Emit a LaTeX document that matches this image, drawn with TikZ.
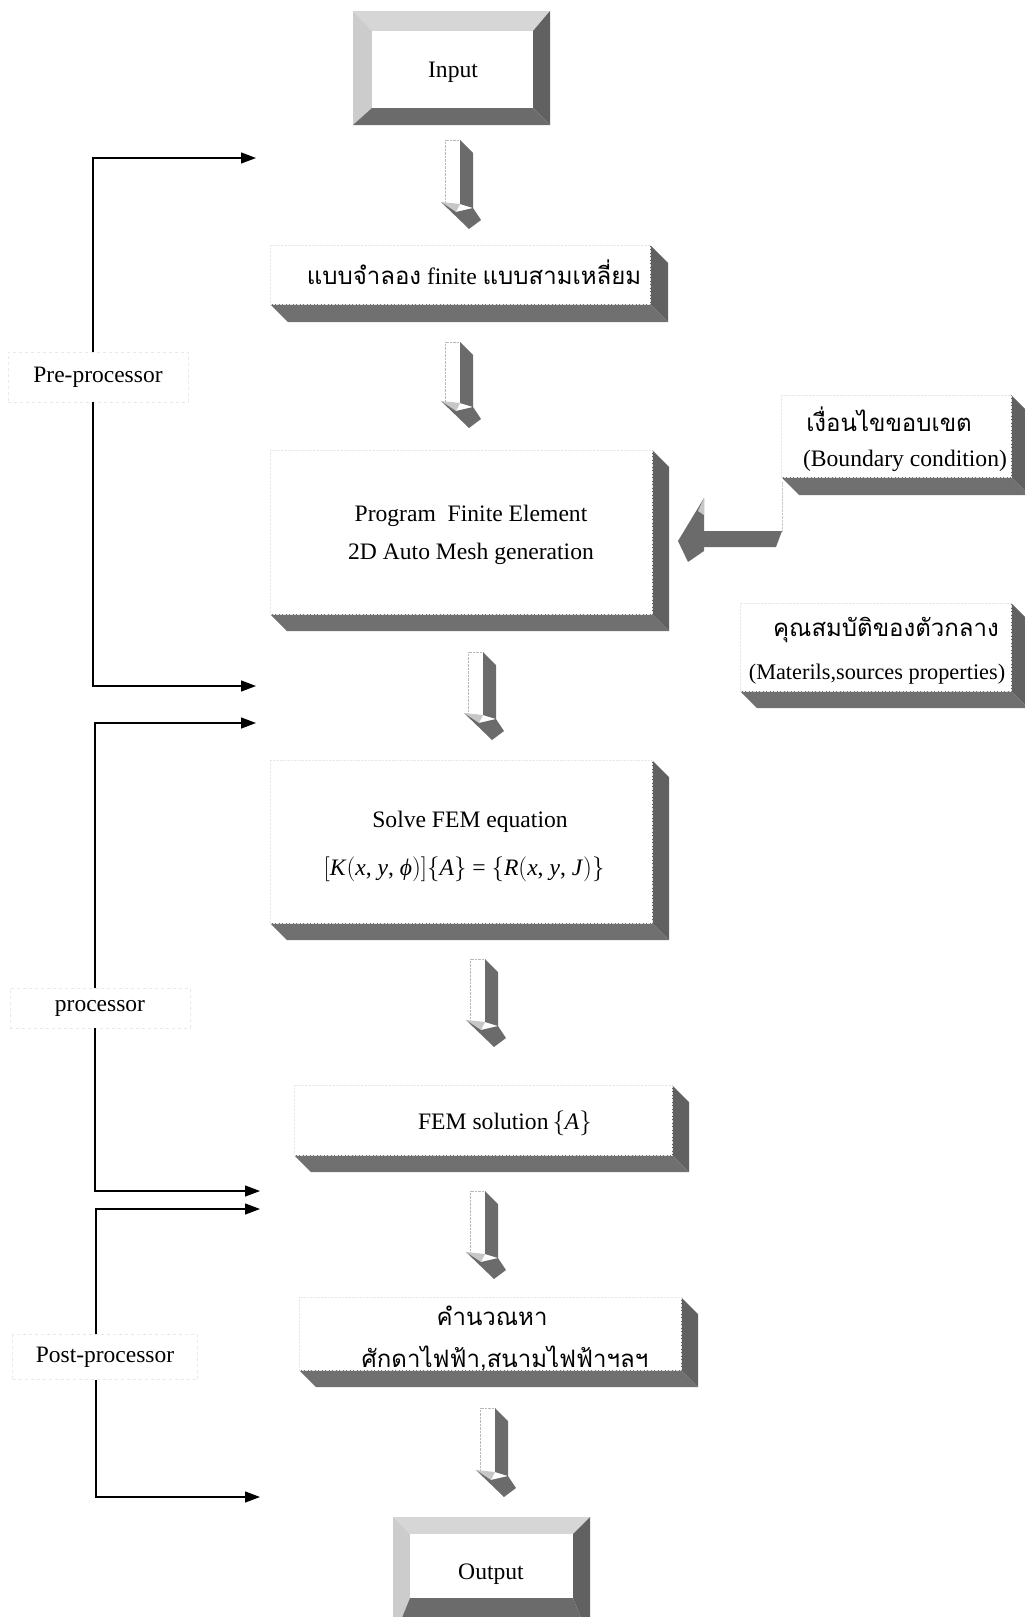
\documentclass[tikz,border=0pt]{standalone}
\usepackage{fontspec}
\setmainfont{Liberation Serif}
\newfontfamily\thaifont[Script=Thai]{Loma}
\usetikzlibrary{arrows.meta}
\tikzset{
  face/.style={fill=white, draw=gray!18, densely dotted, inner sep=0pt, outer sep=0pt, anchor=north west},
  bandR/.style={fill=black!62},
  bandB/.style={fill=black!56},
  bevT/.style={fill=black!16},
  bevL/.style={fill=black!20},
  bevR/.style={fill=black!62},
  bevB/.style={fill=black!58},
  arrside/.style={fill=black!58},
  arrlight/.style={fill=black!22},
  conn/.style={line width=1.3pt, -{Triangle[length=15pt,width=11pt]}},
  txt/.style={font=\fontsize{23.6}{30}\selectfont, align=center, inner sep=0pt},
  thtxt/.style={font=\thaifont\fontsize{24}{34}\selectfont, align=center, inner sep=0pt},
  lbl/.style={font=\fontsize{23.5}{28}\selectfont, draw=gray!18, dashed, inner sep=0pt, fill=white},
}
% 3D box: name, x1, y1, x2, y2, depth
\newcommand{\tdbox}[6]{%
  \fill[bandR] (#4,#3) -- (#4+#6,#3+#6) -- (#4+#6,#5+#6) -- (#4,#5) -- cycle;
  \fill[bandB] (#2,#5) -- (#4,#5) -- (#4+#6,#5+#6) -- (#2+#6,#5+#6) -- cycle;
  \node[face, minimum width={#4-#2}, minimum height={#5-#3}] (#1) at (#2,#3) {};
}
% bevelled frame: name, outer x1,y1,x2,y2, inner x1,y1,x2,y2
\newcommand{\bevbox}[9]{%
  \fill[bevT] (#2,#3) -- (#4,#3) -- (#8,#7) -- (#6,#7) -- cycle;
  \fill[bevL] (#2,#3) -- (#6,#7) -- (#6,#9) -- (#2,#5) -- cycle;
  \fill[bevR] (#4,#3) -- (#4,#5) -- (#8,#9) -- (#8,#7) -- cycle;
  \fill[bevB] (#2,#5) -- (#4,#5) -- (#8,#9) -- (#6,#9) -- cycle;
  \node[fill=white, inner sep=0pt, outer sep=0pt, anchor=north west,
        minimum width={#8-#6}, minimum height={#9-#7}] (#1) at (#6,#7) {};
}
% 3D down arrow: left x, top y, tip y
\newcommand{\darr}[3]{%
  \fill[white] (#1,#2) rectangle (#1+15,#3-25);
  \draw[gray!55, densely dotted] (#1+15,#2) -- (#1,#2) -- (#1,#3-25);
  \fill[arrside] (#1+15,#2) -- (#1+28,#2+13) -- (#1+28,#3-21) -- (#1+15,#3-25) -- cycle;
  \fill[arrlight] (#1-4,#3-27) -- (#1+15,#3-25) -- (#1+11,#3-17) -- cycle;
  \fill[arrside] (#1-4,#3-27) -- (#1+11,#3-17) -- (#1+28,#3-21) -- (#1+36,#3-9) -- (#1+24,#3) -- cycle;
}
\begin{document}
\begin{tikzpicture}[x=1pt,y=-1pt]
\useasboundingbox (0,0) rectangle (1025,1617);
\clip (0,0) rectangle (1025,1617);

% Input / Output frames
\bevbox{inbox}{353}{11}{550}{125}{372}{31}{533}{108}
\node[txt] (intext) at (453,72) {Input};
\bevbox{outbox}{393}{1517}{590}{1640}{410}{1534}{573}{1598}
\node[txt] (outtext) at (491,1574) {Output};

% 3D boxes
\tdbox{model}{270}{245}{650}{304}{18}
\node[txt] (modeltext) at (474,272) {{\thaifont\fontsize{24}{30}\selectfont แบบจำลอง} finite {\thaifont\fontsize{24}{30}\selectfont แบบสามเหลี่ยม}};

\tdbox{prog}{270}{450}{652}{614}{17}
\node[txt] (progtext) at (471,535) {Program\ \ Finite Element\\[8pt]2D Auto Mesh generation};

\tdbox{bound}{781}{395}{1011}{477}{18}
\node[thtxt] (boundth) at (889,419) {เงื่อนไขขอบเขต};
\node[txt] (bounden) at (905,461) {(Boundary condition)};

\tdbox{mat}{740}{603}{1011}{691}{17}
\node[thtxt] (matth) at (886,630) {คุณสมบัติของตัวกลาง};
\node[txt, font=\fontsize{22.3}{26}\selectfont] (maten) at (877,674) {(Materils,sources properties)};

\tdbox{solve}{270}{760}{652}{923}{17}
\node[txt] (solvetext) at (470,822) {Solve FEM equation};
\node[txt] (eqtext) at (464,869) {$\bigl[$\textit{K}$\bigl($\textit{x}, \textit{y}, \textit{ϕ}$\bigr)\bigr]\bigl\{$\textit{A}$\bigr\}$ = $\bigl\{$\textit{R}$\bigl($\textit{x}, \textit{y}, \textit{J}$\bigr)\bigr\}$};

\tdbox{sol}{294}{1085}{672}{1155}{17}
\node[txt] (soltext) at (505,1123) {FEM solution\,$\bigl\{$\textit{A}$\bigr\}$};

\tdbox{calc}{299}{1297}{681}{1370}{17}
\node[thtxt] (calc1) at (492,1316) {คำนวณหา};
\node[thtxt] (calc2) at (505,1358) {ศักดาไฟฟ้า,สนามไฟฟ้าฯลฯ};

% 3D down arrows
\darr{445}{140}{229}
\darr{445}{342}{428}
\darr{468}{652}{740}
\darr{470}{959}{1047}
\darr{470}{1191}{1279}
\darr{480}{1408}{1497}

% left-pointing arrow from boundary condition to program
\draw[gray!45, densely dotted] (782,482) -- (782,532);
\fill[arrside] (703,531) -- (782,531) -- (776,547) -- (703,547) -- cycle;
\fill[arrside] (704,498) -- (678,541) -- (688,562) -- (704,551) -- cycle;
\fill[arrlight] (704,498) -- (698,511) -- (704,515) -- cycle;

% side labels and feedback lines
\coordinate (preV) at (93,0);
\coordinate (procV) at (95,0);
\coordinate (postV) at (96,0);
\coordinate (preT) at (256,158);
\coordinate (preB) at (256,686);
\coordinate (procT) at (256,723);
\coordinate (procB) at (260,1191);
\coordinate (postT) at (260,1209);
\coordinate (postB) at (260,1497);

\node[lbl, minimum width=180, minimum height=50] (pre) at (98,377) {Pre-processor};
\node[lbl, minimum width=180, minimum height=40] (proc) at (100,1008) {processor};
\node[lbl, minimum width=185, minimum height=45] (post) at (105,1357) {Post-processor};

\draw[conn] (pre.north -| preV) |- (preT);
\draw[conn] (pre.south -| preV) |- (preB);
\draw[conn] (proc.north -| procV) |- (procT);
\draw[conn] (proc.south -| procV) |- (procB);
\draw[conn] (post.north -| postV) |- (postT);
\draw[conn] (post.south -| postV) |- (postB);
\end{tikzpicture}
\end{document}
